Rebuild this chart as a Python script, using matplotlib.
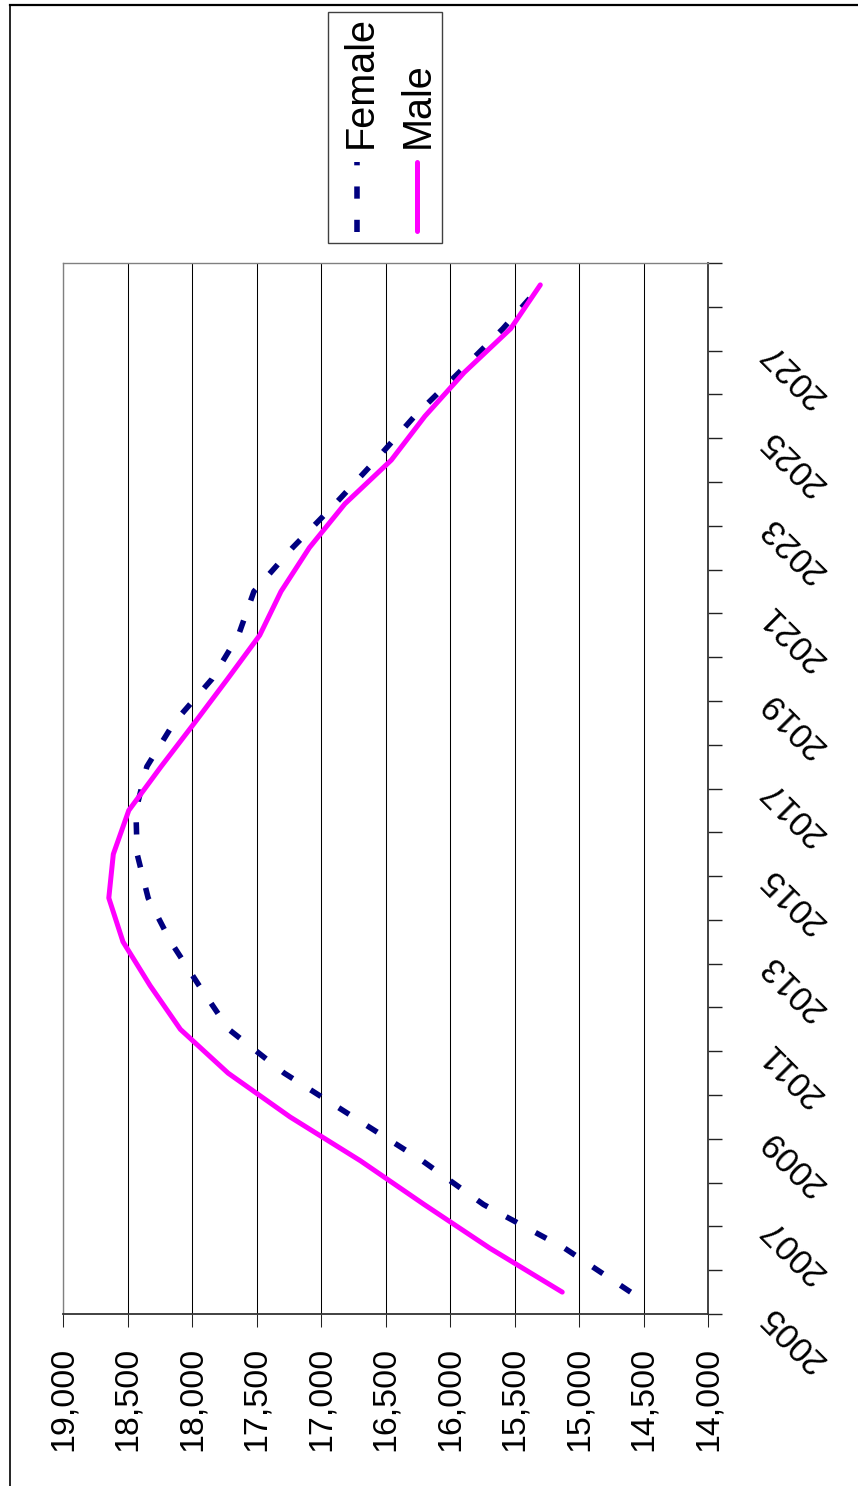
import matplotlib
matplotlib.use("Agg")
import matplotlib.pyplot as plt
from matplotlib.lines import Line2D
from matplotlib.patches import Rectangle
from matplotlib.ticker import FuncFormatter

plt.rcParams['font.family'] = ['Liberation Sans', 'DejaVu Sans']

# Population projection by sex, 2005-2028
years = list(range(2005, 2029))
female = [14600, 15110, 15740, 16215, 16750, 17285, 17715, 17945, 18165, 18340,
          18425, 18435, 18350, 18140, 17845, 17640, 17520, 17220, 16890, 16575,
          16275, 15930, 15590, 15290]
male = [15130, 15690, 16200, 16695, 17240, 17720, 18090, 18325, 18535, 18645,
        18610, 18490, 18240, 17980, 17725, 17475, 17310, 17090, 16815, 16455,
        16195, 15890, 15530, 15300]
value_ticks = list(range(14000, 19001, 500))

W, H = 858, 1486
fig = plt.figure(figsize=(W / 100, H / 100), dpi=100)
fig.patch.set_facecolor('white')

# chart is laid out sideways: values run right-to-left, years bottom-to-top
ax = fig.add_axes([63 / W, (H - 1314) / H, 645 / W, 1051 / H])
idx = list(range(len(years)))

female_color = '#000080'
male_color = '#FF00FF'
ax.plot(female, idx, color=female_color, lw=4.0, dashes=(2.2, 3.8),
        dash_capstyle='butt', zorder=3)
ax.plot(male, idx, color=male_color, lw=3.6, solid_capstyle='round',
        solid_joinstyle='round', zorder=4)

ax.set_xlim(19000, 14000)
ax.set_ylim(-0.5, len(years) - 0.5)

ax.set_xticks(value_ticks)
ax.xaxis.set_major_formatter(FuncFormatter(lambda v, p: f"{v:,.0f}"))
ax.grid(axis='x', color='black', lw=0.75, zorder=1)
ax.tick_params(axis='x', direction='out', length=9.5, width=0.75,
               color='#222222', labelsize=24.5, pad=14, labelrotation=90)

ax.set_yticks([i - 0.5 for i in range(len(years) + 1)])
ax.set_yticklabels([])
ax.tick_params(axis='y', left=False, right=True, labelleft=False,
               labelright=False, direction='out', length=10, width=1,
               color='#222222')

for side in ['top', 'left']:
    ax.spines[side].set_color('#808080')
    ax.spines[side].set_linewidth(1.0)
for side in ['bottom', 'right']:
    ax.spines[side].set_color('#333333')
    ax.spines[side].set_linewidth(1.3)

# year labels, every other year
for i, y in enumerate(years):
    if i % 2 == 0:
        ax.text(1.0 + 58 / 645, i - 0.42, str(y), transform=ax.get_yaxis_transform(),
                rotation=135, rotation_mode='anchor', ha='right', va='center',
                fontsize=25)

# outer frame
fig.add_artist(Line2D([10 / W, 10 / W], [0, 1 - 5 / H], transform=fig.transFigure,
                      color='black', lw=1.2))
fig.add_artist(Line2D([10 / W, 1], [1 - 5 / H, 1 - 5 / H], transform=fig.transFigure,
                      color='black', lw=1.6))

# legend box with vertical entries
fig.add_artist(Rectangle((328 / W, 1 - 243 / H), (442 - 328) / W, (243 - 12) / H,
                         transform=fig.transFigure, fill=False,
                         edgecolor='#404040', lw=1.0))
fig.add_artist(Line2D([357 / W, 357 / W], [1 - 232 / H, 1 - 162 / H],
                      transform=fig.transFigure, color=female_color, lw=4.0,
                      dashes=(2.2, 3.8), dash_capstyle='butt'))
fig.add_artist(Line2D([417 / W, 417 / W], [1 - 231 / H, 1 - 162 / H],
                      transform=fig.transFigure, color=male_color, lw=3.6,
                      solid_capstyle='round'))
fig.text(361 / W, 1 - 148 / H, 'Female', rotation=90, ha='center', va='bottom',
         fontsize=28.5)
fig.text(418 / W, 1 - 148 / H, 'Male', rotation=90, ha='center', va='bottom',
         fontsize=28.5)

fig.savefig('out.png', dpi=100, facecolor='white')
